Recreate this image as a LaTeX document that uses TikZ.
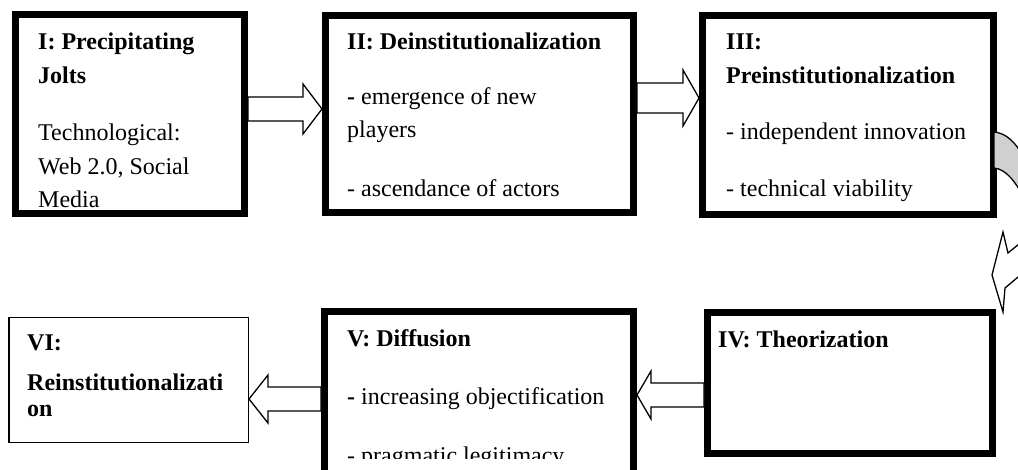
\documentclass[tikz,border=0pt]{standalone}
\usepackage{fontspec}
\setmainfont{Liberation Serif}
\usetikzlibrary{calc}
\definecolor{bandgray}{RGB}{208,208,208}
\tikzset{
  boxthick/.style={draw=black, line width=7pt, inner sep=0pt, outer sep=auto, anchor=north west},
  boxthin/.style={draw=black, line width=1.5pt, inner sep=0pt, outer sep=auto, anchor=north west},
  txt/.style={anchor=base west, inner sep=0pt, font=\fontsize{24}{29}\selectfont},
  hd/.style={txt, font=\fontsize{24}{29}\selectfont\bfseries},
  arrowline/.style={draw=black, fill=white, line width=1.3pt, line join=miter},
}
% #1 start, #2 tip, #3 shaft half width, #4 head half width, #5 head length
\newcommand\blockarr[5]{%
  \draw[arrowline] let \p1=(#1), \p2=(#2), \n1={#5*sign(\x2-\x1)} in
    (\x1,\y1+#3) -- (\x2-\n1,\y1+#3) -- (\x2-\n1,\y1+#4) -- (\x2,\y1)
    -- (\x2-\n1,\y1-#4) -- (\x2-\n1,\y1-#3) -- (\x1,\y1-#3) -- cycle;}
\begin{document}
\begin{tikzpicture}[x=1pt, y=-1pt]
\useasboundingbox (0,0) rectangle (1018,470);
\begin{scope}
\clip (0,0) rectangle (1018,470);

% boxes (positioned by outer corner)
\path
  (12,11)  node[boxthick, minimum width=229pt, minimum height=199pt] (b1) {}
  (322,12) node[boxthick, minimum width=308pt, minimum height=197pt] (b2) {}
  (699,12) node[boxthick, minimum width=291pt, minimum height=199pt] (b3) {}
  (704,309) node[boxthick, minimum width=285pt, minimum height=141pt] (b4) {}
  (321,308) node[boxthick, minimum width=309pt, minimum height=175pt] (b5) {}
  (8,317)  node[boxthin, minimum width=239.5pt, minimum height=124.5pt] (b6) {};

% connector end points
\coordinate (a1s) at ($(b1.east)+(0,-5)$);
\coordinate (a1e) at ($(b2.west)+(0,-5)$);
\coordinate (a2s) at ($(b2.east)+(0,-16)$);
\coordinate (a2e) at ($(b3.west)+(0,-16)$);
\coordinate (a4s) at ($(b4.west)+(0,12)$);
\coordinate (a4e) at (b5.east);
\coordinate (a5s) at (b5.west);
\coordinate (a5e) at (b6.east);

% block arrows
\blockarr{a1s}{a1e}{12}{25}{19}
\blockarr{a2s}{a2e}{15}{28}{16}
\blockarr{a4s}{a4e}{12}{24}{14}
\blockarr{a5s}{a5e}{12}{24}{19}

% curved arrow from III to IV (mostly outside the picture)
\draw[fill=bandgray, line width=1.3pt]
  (994,132) .. controls (1006,133) and (1016,142) .. (1025,160)
  -- (1025,200) .. controls (1016,182) and (1006,169) .. (994,168) -- cycle;
\draw[arrowline]
  (1030,235) -- (1008,253) -- (1003,232) -- (992,275) -- (1003,312)
  -- (1005,288) -- (1030,267) -- cycle;

% texts
\node[hd]  (t1a) at (38,50)  {I: Precipitating};
\node[hd]  (t1b) at (38,84)  {Jolts};
\node[txt] (t1c) at (38,141) {Technological:};
\node[txt] (t1d) at (38,175) {Web 2.0, Social};
\node[txt] (t1e) at (38,208) {Media};

\node[hd]  (t2a) at (347,50)  {II: Deinstitutionalization};
\node[txt] (t2b) at (347,105) {\textbf{-} emergence of new};
\node[txt] (t2c) at (347,138) {players};
\node[txt] (t2d) at (347,197) {- ascendance of actors};

\node[hd]  (t3a) at (726,50)  {III:};
\node[hd]  (t3b) at (726,84)  {Preinstitutionalization};
\node[txt] (t3c) at (726,140) {- independent innovation};
\node[txt] (t3d) at (726,197) {- technical viability};

\node[hd]  (t4a) at (718,348) {IV: Theorization};

\node[hd]  (t5a) at (347,347) {V: Diffusion};
\node[txt] (t5b) at (347,405) {\textbf{-} increasing objectification};
\begin{scope}
\clip (321,300) rectangle (637,458);
\node[txt] (t5c) at (347,463) {- pragmatic legitimacy};
\end{scope}

\node[hd]  (t6a) at (27,351) {VI:};
\node[hd]  (t6b) at (27,391) {Reinstitutionalizati};
\node[hd]  (t6c) at (27,417) {on};

\end{scope}
\end{tikzpicture}
\end{document}
